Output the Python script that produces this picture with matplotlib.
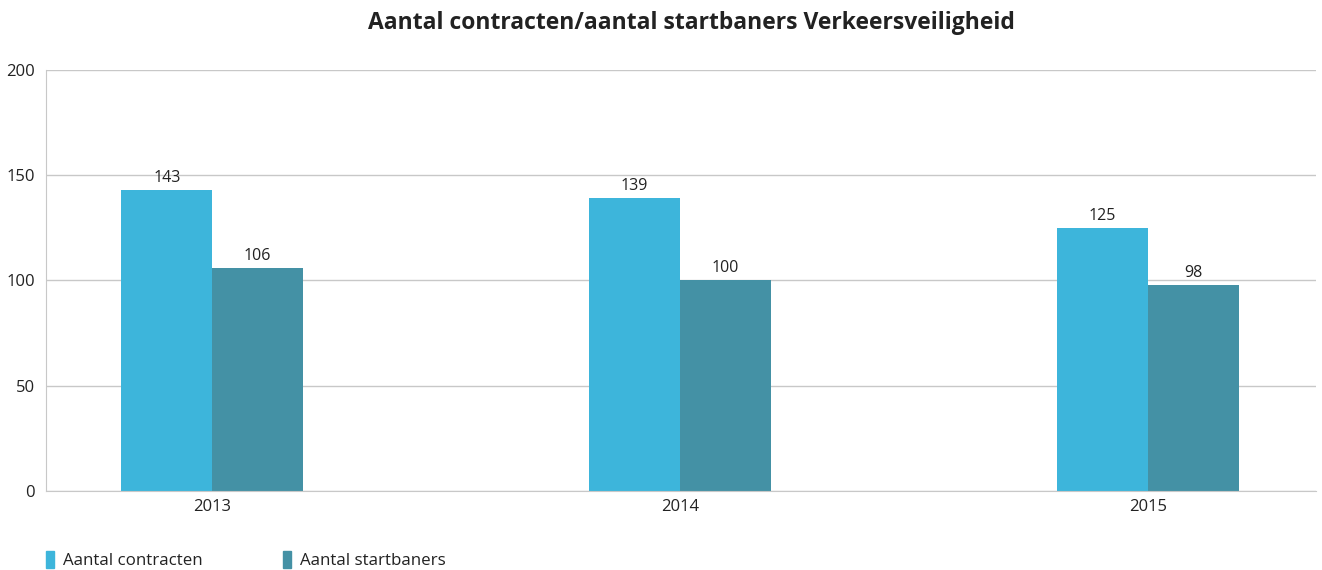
import numpy as np
import matplotlib.pyplot as plt
from matplotlib.patches import Rectangle

years = ['2013', '2014', '2015']
contracten = [143, 139, 125]
startbaners = [106, 100, 98]
series_labels = ['Aantal contracten', 'Aantal startbaners']
colors = ['#3DB5DB', '#4491A5']

plt.rcParams['font.family'] = ['Open Sans', 'DejaVu Sans']

fig = plt.figure(figsize=(13.22, 5.70), dpi=100)
ax = fig.add_axes([0.0348, 0.1386, 0.9607, 0.7386])

x = np.arange(len(years))
w = 0.194
b1 = ax.bar(x - w / 2, contracten, w, color=colors[0], zorder=2)
b2 = ax.bar(x + w / 2, startbaners, w, color=colors[1], zorder=2)

for bars in (b1, b2):
    for rect in bars:
        ax.annotate(f'{rect.get_height():.0f}', (rect.get_x() + rect.get_width() / 2, rect.get_height()),
                    xytext=(0, 3), textcoords='offset points', ha='center', va='bottom',
                    fontsize=11.5, color='#222222')

ax.set_xlim(-0.355, 2.359)
ax.set_ylim(0, 200)
ax.set_yticks([0, 50, 100, 150, 200])
ax.set_xticks(x)
ax.set_xticklabels(years)
ax.yaxis.grid(True, color='#C8C8C8', linewidth=1, zorder=0)
ax.set_axisbelow(True)
for s in ('top', 'right'):
    ax.spines[s].set_visible(False)
for s in ('left', 'bottom'):
    ax.spines[s].set_color('#C8C8C8')
ax.tick_params(length=0, labelsize=12, colors='#222222', pad=6)
ax.tick_params(axis='y', pad=8)

fig.suptitle('Aantal contracten/aantal startbaners Verkeersveiligheid', x=0.523, y=0.98,
             fontsize=16.5, fontweight='bold', color='#222222')

handles = [Rectangle((0, 0), 1, 1, color=c) for c in colors]
fig.legend(handles, series_labels, loc='lower left', bbox_to_anchor=(0.023, -0.025), ncol=2,
           frameon=False, fontsize=12.2, handlelength=0.5, handleheight=1.2, handletextpad=0.5,
           columnspacing=4.75, labelcolor='#222222')

fig.savefig('out.png', dpi=100)
